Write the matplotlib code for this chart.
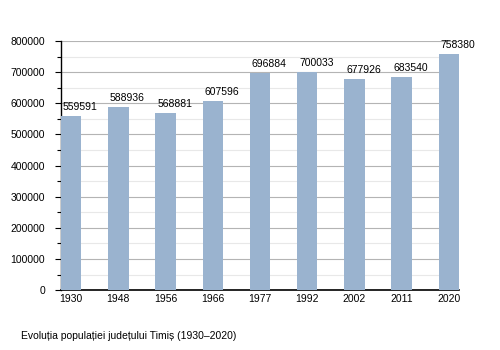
import matplotlib.pyplot as plt
from matplotlib.ticker import MultipleLocator

years = ["1930", "1948", "1956", "1966", "1977", "1992", "2002", "2011", "2020"]
population = [559591, 588936, 568881, 607596, 696884, 700033, 677926, 683540, 758380]

plt.rcParams['font.family'] = ['Liberation Sans', 'DejaVu Sans']

fig = plt.figure(figsize=(5, 3.5), dpi=100)
ax = fig.add_axes([0.122, 0.171, 0.796, 0.712])

x = range(len(years))
ax.bar(x, population, width=0.43, color='#9ab3cf', zorder=3)
# value labels sit a little to the right of each bar centre
for i, v in zip(x, population):
    ax.annotate(str(v), (i, v), xytext=(6.5, 3), textcoords='offset points',
                ha='center', va='bottom', fontsize=7.5, zorder=4)

ax.set_xlim(-0.215, len(years) - 1 + 0.215)
ax.set_ylim(0, 800000)
ax.set_xticks(list(x))
ax.set_xticklabels(years, fontsize=7.5)
ax.yaxis.set_major_locator(MultipleLocator(100000))
ax.yaxis.set_minor_locator(MultipleLocator(50000))
ax.tick_params(axis='y', which='major', labelsize=7.5, length=4.5, width=0.8, pad=7)
ax.tick_params(axis='y', which='minor', length=3, width=0.8)
ax.tick_params(axis='x', length=0, pad=3)
ax.grid(axis='y', which='major', color='#b4b4b4', linewidth=0.8, zorder=0)
ax.grid(axis='y', which='minor', color='#e8e8e8', linewidth=0.8, zorder=0)
for side in ('top', 'right'):
    ax.spines[side].set_visible(False)
ax.spines['left'].set_linewidth(1.0)
ax.spines['bottom'].set_linewidth(1.2)

fig.text(0.042, 0.031, "Evoluția populației județului Timiș (1930–2020)", fontsize=7.5)

fig.savefig("out.png")
